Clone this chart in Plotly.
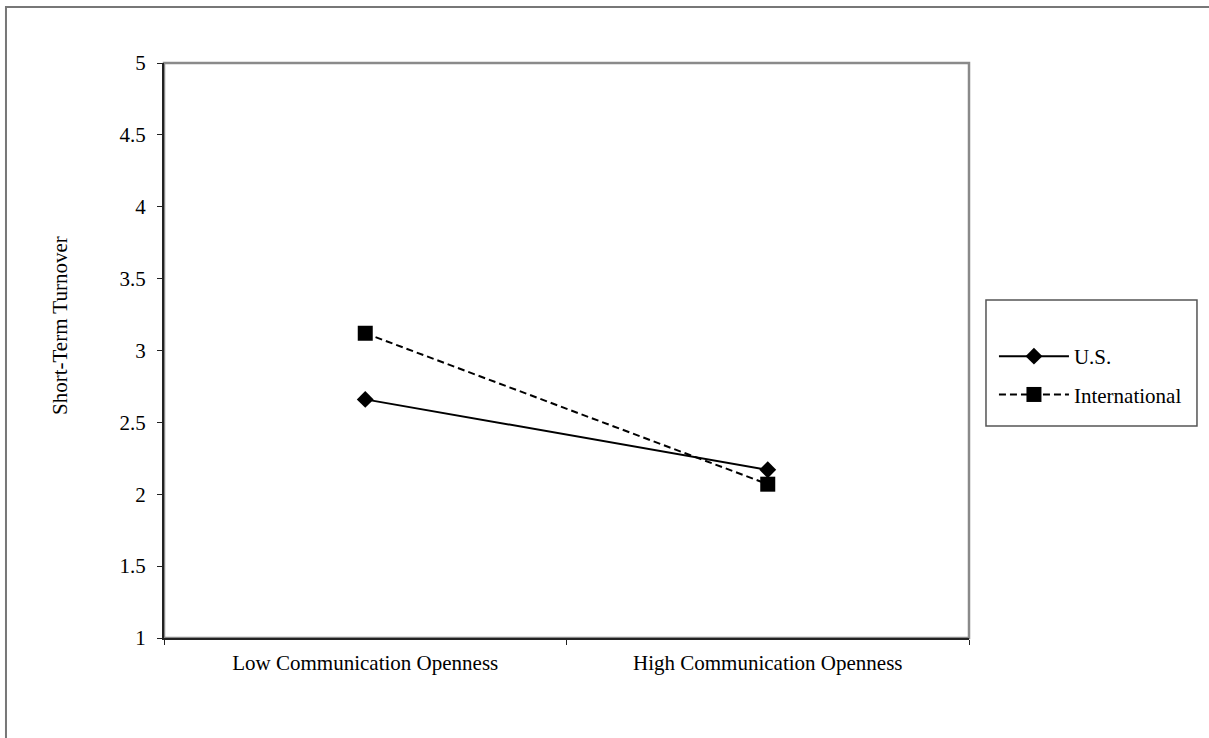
import plotly.graph_objects as go

categories = ["Low Communication Openness", "High Communication Openness"]
us_values = [2.66, 2.17]
intl_values = [3.12, 2.07]
y_ticks = [1, 1.5, 2, 2.5, 3, 3.5, 4, 4.5, 5]
y_tick_labels = ["1", "1.5", "2", "2.5", "3", "3.5", "4", "4.5", "5"]

FONT = "Liberation Serif"
FS = 21

fig = go.Figure()
fig.add_trace(go.Scatter(
    x=categories, y=us_values, name="U.S.", mode="lines+markers",
    line=dict(color="black", width=2, dash="solid"),
    marker=dict(symbol="diamond", size=13, color="black"),
    legendgroup="a",
))
fig.add_trace(go.Scatter(
    x=categories, y=intl_values, name="International", mode="lines+markers",
    line=dict(color="black", width=2, dash="7px,4px"),
    marker=dict(symbol="square", size=15, color="black"),
    legendgroup="b",
))

# plot area frame (gray), outer frame, legend frame
fig.add_shape(type="rect", xref="paper", yref="paper", x0=0, x1=1, y0=0, y1=1,
              line=dict(color="#8a8a8a", width=2.5), layer="below")
fig.add_shape(type="rect", xref="paper", yref="paper", x0=-0.1963, x1=1.5, y0=-0.5, y1=1.0974,
              line=dict(color="#777777", width=2), layer="below")
fig.add_shape(type="rect", xref="paper", yref="paper", x0=1.0211, x1=1.2832, y0=0.3687, y1=0.5878,
              line=dict(color="#555555", width=1.5), layer="below")

fig.add_annotation(text="Short-Term Turnover", xref="paper", yref="paper",
                   x=-0.1292, y=0.5443, xanchor="center", yanchor="middle",
                   textangle=-90, showarrow=False,
                   font=dict(family=FONT, size=FS, color="black"))

fig.update_layout(
    width=1209, height=738,
    margin=dict(l=164, r=240, t=63, b=100),
    paper_bgcolor="white", plot_bgcolor="white",
    font=dict(family=FONT, size=FS, color="black"),
    showlegend=True,
    legend=dict(
        x=1.031, y=0.5252, xanchor="left", yanchor="top",
        borderwidth=0, bgcolor="rgba(0,0,0,0)",
        font=dict(family=FONT, size=FS, color="black"),
        itemwidth=70, tracegroupgap=8, traceorder="grouped",
    ),
    xaxis=dict(
        type="category", range=[-0.5, 1.5], tickson="boundaries",
        showline=True, linecolor="#222222", linewidth=2,
        ticks="outside", ticklen=5, tickcolor="#222222", tickwidth=1,
        showgrid=False, zeroline=False, ticklabelstandoff=5,
        tickfont=dict(family=FONT, size=FS),
    ),
    yaxis=dict(
        range=[1, 5], tickvals=y_ticks, ticktext=y_tick_labels,
        showline=True, linecolor="#222222", linewidth=2,
        ticks="outside", ticklen=5, tickcolor="#222222", tickwidth=1,
        showgrid=False, zeroline=False, ticklabelstandoff=7,
        tickfont=dict(family=FONT, size=FS),
    ),
)

fig.write_html("out.html", config={"displayModeBar": False},
               post_script="document.body.style.margin='0';")
